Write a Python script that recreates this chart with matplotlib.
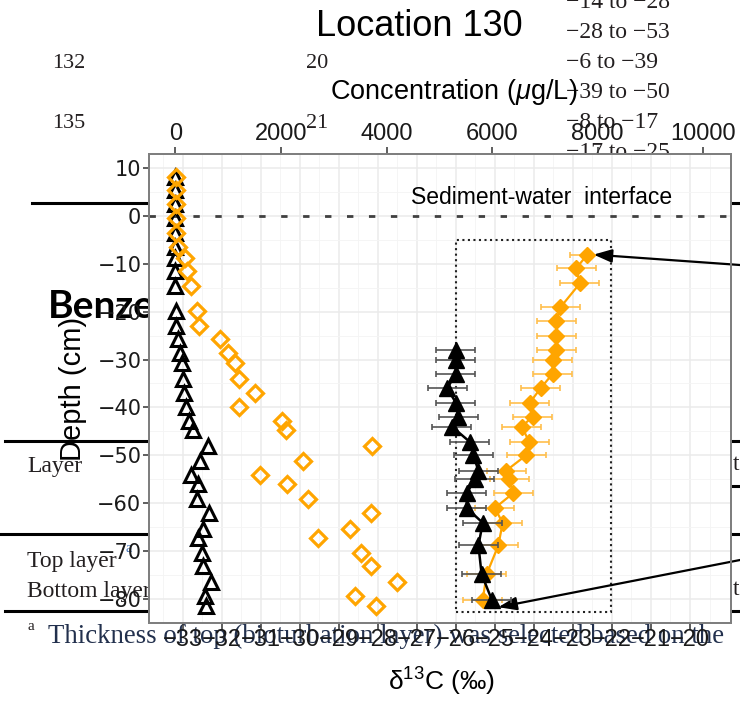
import numpy as np
import matplotlib.pyplot as plt
from matplotlib.lines import Line2D
from matplotlib.patches import Rectangle

W, H = 740, 704
SANS = "Liberation Sans"
SERIF = "Liberation Serif"

plt.rcParams["font.family"] = SANS
plt.rcParams["mathtext.fontset"] = "custom"
plt.rcParams["mathtext.rm"] = SANS
plt.rcParams["mathtext.it"] = SANS + ":italic"

# isotope samples (filled symbols, bottom axis)
depth_iso = [-8.1, -11.0, -14.1, -19.1, -22.0, -25.0, -28.0, -30.0, -33.0, -36.0,
             -39.0, -41.9, -44.0, -47.2, -50.0, -53.2, -55.0, -57.9, -61.0, -64.1,
             -68.8, -74.8, -80.1]
d13c_orange = [-22.63, -22.92, -22.82, -23.32, -23.43, -23.43, -23.43, -23.52, -23.52, -23.83,
               -24.10, -24.03, -24.31, -24.12, -24.20, -24.71, -24.63, -24.53, -25.00, -24.80,
               -24.91, -25.21, -25.31]
sd_orange = [0.45, 0.5, 0.5, 0.5, 0.5, 0.5, 0.5, 0.5, 0.5, 0.5,
             0.5, 0.5, 0.5, 0.5, 0.5, 0.5, 0.5, 0.5, 0.5, 0.5,
             0.5, 0.5, 0.5]
depth_iso_black = depth_iso[6:]
d13c_black = [-26.00, -26.00, -26.00, -26.22, -26.00, -25.94, -26.10, -25.64, -25.55, -25.42,
              -25.51, -25.72, -25.72, -25.31, -25.42, -25.34, -25.08]
sd_black = [0.5] * len(d13c_black)

# concentration samples (open symbols, top axis)
depth_conc = [8.0, 5.4, 2.5, -0.4, -3.5, -6.5, -8.8, -11.5, -14.7, -19.9,
              -22.9, -25.8, -28.6, -30.8, -34.0, -37.0, -40.0, -42.9, -44.8, -48.0,
              -51.2, -54.1, -56.0, -59.1, -62.1, -65.3, -67.3, -70.3, -73.2, -76.4,
              -79.3, -81.4]
conc_black = [0, 0, 0, 0, 0, 0, 0, 0, 0, 5,
              15, 50, 85, 117, 137, 170, 196, 262, 337, 620,
              464, 288, 421, 402, 641, 527, 421, 497, 527, 667,
              559, 578]
conc_orange = [5, 5, 5, 5, 10, 50, 180, 210, 290, 400,
               450, 840, 1000, 1130, 1210, 1510, 1210, 2010, 2100, 3720,
               2410, 1600, 2110, 2510, 3710, 3310, 2710, 3510, 3710, 4190,
               3400, 3800]

d13c_ticks = list(range(-33, -19))
conc_ticks = [0, 2000, 4000, 6000, 8000, 10000]
depth_ticks = list(range(-80, 11, 10))

# text of the document page behind the chart
table_left = ["132", "135"]
table_mid = ["20", "21"]
table_right = ["\u221214 to \u221228", "\u221228 to \u221253", "\u22126 to \u221239",
               "\u221239 to \u221250", "\u22128 to \u221217", "\u221217 to \u221225"]
layer_rows = ["Layer", "Top layer", "Bottom layer"]
footnote = "Thickness of top (bioturbation layer) was selected based on the"


def fx(x):
    return x / W


def fy(y):
    return 1 - y / H


fig = plt.figure(figsize=(W / 100, H / 100), dpi=100)
fig.patch.set_facecolor("white")

# ---- page text / rules (under the chart)
ink = "#231f20"
for lab, y in zip(table_left, [68, 128]):
    fig.text(fx(52), fy(y), lab, family=SERIF, fontsize=16, color=ink, zorder=-1)
for lab, y in zip(table_mid, [68, 128]):
    fig.text(fx(306), fy(y), lab, family=SERIF, fontsize=16, color=ink, zorder=-1)
for i, lab in enumerate(table_right):
    fig.text(fx(566), fy(8 + 30 * i), lab, family=SERIF, fontsize=17, color=ink, zorder=-1)
for lab, y in zip(layer_rows, [472, 567, 597]):
    fig.text(fx(27), fy(y), lab, family=SERIF, fontsize=17, color=ink, zorder=-1)
fig.text(fx(126), fy(552), "a", family=SERIF, fontsize=10, color="#3b6fb6", zorder=-1)
fig.text(fx(733), fy(470), "t", family=SERIF, fontsize=17, color=ink, zorder=-1)
fig.text(fx(733), fy(595), "t", family=SERIF, fontsize=17, color=ink, zorder=-1)
fig.text(fx(27), fy(630), "a", family=SERIF, fontsize=11, color=ink, zorder=-1)
fig.text(fx(48), fy(643), footnote, family=SERIF, fontsize=19.3, color="#22304d", zorder=-1)
fig.text(fx(48), fy(318), "Benzene", family="Lato", fontweight="bold", fontsize=28,
         color="black", zorder=-1)

for y, x0, x1 in [(203, 32, 740), (440.7, 5, 740), (486, 600, 740), (534, 0, 740), (611, 5, 740)]:
    fig.add_artist(Line2D([fx(x0), fx(x1)], [fy(y), fy(y)], transform=fig.transFigure,
                          color="black", lw=2.2, zorder=-1))

fig.text(fx(419), fy(36), "Location 130", fontsize=26, ha="center", va="baseline")

# ---- chart
ax = fig.add_axes([fx(149), fy(623), (731 - 149) / W, (623 - 154) / H])
ax.set_xlim(-33.86, -18.95)
ax.set_ylim(-84.8, 12.9)
ax.set_xticks(d13c_ticks)
ax.set_xticks(np.arange(-33.5, -19, 1.0), minor=True)
ax.set_yticks(depth_ticks)
ax.set_yticks(np.arange(-85, 12, 10), minor=True)
ax.grid(which="major", color="#ebebeb", lw=1.1)
ax.grid(which="minor", color="#f4f4f4", lw=0.6)
ax.set_axisbelow(True)
ax.tick_params(which="minor", length=0)
ax.tick_params(axis="x", which="major", length=5, width=1.1, color="#333333",
               labelsize=17, pad=-1, labelcolor="#1a1a1a")
ax.tick_params(axis="y", which="major", length=4.5, width=1.1, color="#333333",
               labelsize=15, pad=1, labelcolor="#1a1a1a")
for t in ax.get_yticklabels():
    t.set_fontfamily("DejaVu Sans")
for s in ax.spines.values():
    s.set_color("#7f7f7f")
    s.set_linewidth(1.4)

ax.set_xlabel(r"δ$^{13}$C (‰)", fontsize=19, va="center")
ax.xaxis.set_label_coords(0.5026, -0.1247)
ax.set_ylabel("Depth (cm)", fontsize=21, va="center")
ax.yaxis.set_label_coords(-0.1306, 0.5)

ax.axhline(0, color="#404040", lw=2, ls=(0, (2.3, 5.6)), zorder=1)
ax.text(-23.80, 2.5, "Sediment-water  interface", fontsize=16.5, ha="center", va="baseline")
ax.add_patch(Rectangle((-26.0, -82.6), 3.98, 77.5, fill=False, ls=":", lw=1.5,
                       edgecolor="#222222", zorder=2))

ax.errorbar(d13c_orange, depth_iso, xerr=sd_orange, fmt="-D", color="#ffa500",
            ecolor="#ffbf4d", elinewidth=1.2, capsize=2.5, capthick=1.2, lw=1.6,
            ms=8, mec="#ffa500", zorder=3)
ax.errorbar(d13c_black, depth_iso_black, xerr=sd_black, fmt="-^", color="black",
            ecolor="#555555", elinewidth=1.2, capsize=2.5, capthick=1.2, lw=1.8,
            ms=11, zorder=4)

arrow = dict(arrowstyle="-|>,head_length=0.55,head_width=0.2", color="black", lw=1.6,
             shrinkA=0, shrinkB=0, mutation_scale=20, clip_on=False)
ax.annotate("", xy=(-22.47, -8.1), xytext=(740, H - 265), textcoords="figure pixels",
            arrowprops=arrow, annotation_clip=False)
ax.annotate("", xy=(-24.91, -81.7), xytext=(740, H - 560), textcoords="figure pixels",
            arrowprops=arrow, annotation_clip=False)

ax2 = ax.twiny()
ax2.set_xlim(-502, 10530)
ax2.set_xticks(conc_ticks)
ax2.tick_params(axis="x", length=5, width=1.1, color="#333333", labelsize=17, pad=1.5,
                labelcolor="#1a1a1a")
for s in ax2.spines.values():
    s.set_color("#7f7f7f")
    s.set_linewidth(1.4)
ax2.set_xlabel(r"Concentration ($\mu$g/L)", fontsize=19.5, va="center")
ax2.xaxis.set_label_coords(0.524, 1.132)

ax2.plot(conc_black, depth_conc, ls="none", marker="^", ms=10, mfc="none", mec="black",
         mew=2.2, clip_on=False)
ax2.plot(conc_orange, depth_conc, ls="none", marker="D", ms=8.5, mfc="none", mec="#ffa500",
         mew=2.3, clip_on=False)

fig.savefig("out.png", dpi=100)
